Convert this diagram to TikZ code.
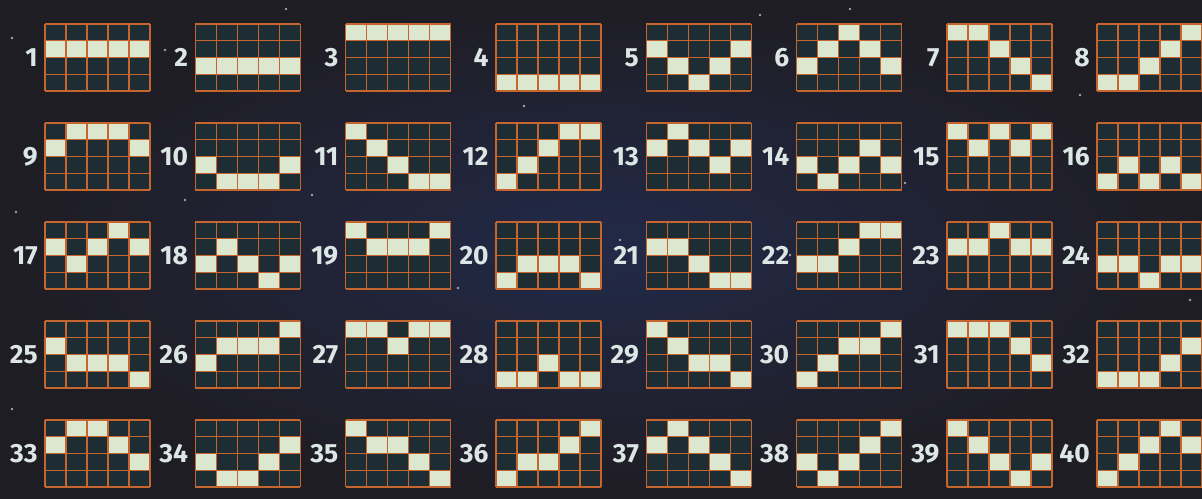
\documentclass[tikz,border=0pt]{standalone}
\usepackage{fontspec}
\setmainfont{Fira Sans}
\definecolor{spacebg}{HTML}{1F1D24}
\definecolor{nebula}{HTML}{222A48}
\definecolor{cellbg}{HTML}{1E2D33}
\definecolor{gridline}{HTML}{C7652E}
\definecolor{lit}{HTML}{DCE7D0}
\definecolor{numtext}{HTML}{DCE6E4}
\definecolor{stardot}{HTML}{E8D8C8}

\tikzset{
  gridframe/.style={draw=gridline, line width=0.8pt},
  litcell/.style={fill=lit},
  linenum/.style={anchor=east, text=numtext, inner sep=0pt,
    font=\bfseries\fontsize{15}{15}\selectfont},
}

\begin{document}
\begin{tikzpicture}[x=0.2mm, y=-0.2mm]
    % background
    \shade[inner color=nebula, outer color=spacebg] (0,0) rectangle (1202,498);
    \useasboundingbox (0,0) rectangle (1202,498);

    % a few stars
    \foreach \sx/\sy in {12/38, 16/212, 12/409, 165/50, 185/200, 205/336, 312/195, 286/9,
        420/130, 458/288, 524/106, 560/470, 620/240, 655/185, 700/360, 760/15, 790/255,
        850/9, 905/183, 954/430, 1005/265, 1080/95, 1140/480, 1190/300, 380/480}
        \fill[stardot, opacity=0.7] (\sx,\sy) circle (1.4);

    % paylines: number / row of reel 1..5 (1 = top)
    \foreach \n/\ra/\rb/\rc/\rd/\re in {
        1/2/2/2/2/2, 2/3/3/3/3/3, 3/1/1/1/1/1, 4/4/4/4/4/4,
        5/2/3/4/3/2, 6/3/2/1/2/3, 7/1/1/2/3/4, 8/4/4/3/2/1,
        9/2/1/1/1/2, 10/3/4/4/4/3, 11/1/2/3/4/4, 12/4/3/2/1/1,
        13/2/1/2/3/2, 14/3/4/3/2/3, 15/1/2/1/2/1, 16/4/3/4/3/4,
        17/2/3/2/1/2, 18/3/2/3/4/3, 19/1/2/2/2/1, 20/4/3/3/3/4,
        21/2/2/3/4/4, 22/3/3/2/1/1, 23/2/2/1/2/2, 24/3/3/4/3/3,
        25/2/3/3/3/4, 26/3/2/2/2/1, 27/1/1/2/1/1, 28/4/4/3/4/4,
        29/1/2/3/3/4, 30/4/3/2/2/1, 31/1/1/1/2/3, 32/4/4/4/3/2,
        33/2/1/1/2/3, 34/3/4/4/3/2, 35/1/2/2/3/4, 36/4/3/3/2/1,
        37/2/1/2/3/4, 38/3/4/3/2/1, 39/1/2/3/4/3, 40/4/3/2/1/2} {
        \pgfmathtruncatemacro{\gx}{mod(\n-1,8)}
        \pgfmathtruncatemacro{\gy}{div(\n-1,8)}
        \begin{scope}[shift={({45+150.3*\gx},{24+99*\gy})}]
            \fill[cellbg] (0,0) rectangle (105,67);
            \foreach \rr [count=\cc from 0] in {\ra,\rb,\rc,\rd,\re}
                \fill[litcell] ({21*\cc},{16.75*(\rr-1)}) rectangle +(21,16.75);
            \foreach \i in {0,...,5}
                \draw[gridframe] ({21*\i},0) -- ({21*\i},67);
            \foreach \j in {0,...,4}
                \draw[gridframe] (0,{16.75*\j}) -- (105,{16.75*\j});
            \node[linenum] (num\n) at (-7,33.5) {\n};
        \end{scope}
    }
\end{tikzpicture}
\end{document}
